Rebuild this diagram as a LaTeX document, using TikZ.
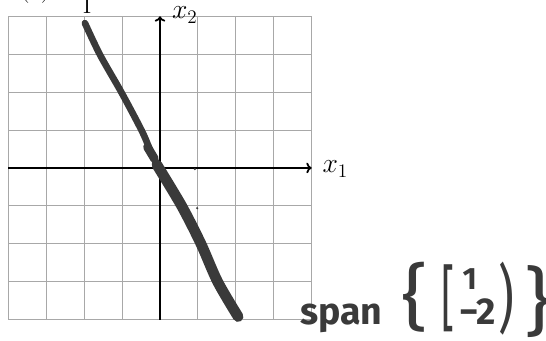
\documentclass[tikz,border=0pt]{standalone}
\usepackage{fontspec}
\usepackage{graphicx}
\usetikzlibrary{arrows.meta}
\newfontfamily\handfont{Fira Sans}
\definecolor{ink}{HTML}{3A3A3A}
\definecolor{gridc}{HTML}{A8A8A8}
\begin{document}
\begin{tikzpicture}[
  gridline/.style={draw=gridc, line width=0.7pt},
  axisline/.style={draw=black, line width=1.3pt, -{To[length=4pt,width=8pt]}},
  lbl/.style={inner sep=0pt, font=\huge},
  hand/.style={inner sep=0pt, text=ink, font=\handfont\bfseries},
  handthin/.style={inner sep=0pt, text=ink, font=\handfont},
  stroke/.style={draw=ink, line cap=round, line join=round},
]
\useasboundingbox (-4.22,-4.56) rectangle (10.18,4.43);
% heading fragments (cut off at top)
\node[lbl, anchor=base west] (head) at (-3.70,4.525) {(c)};
\node[lbl, anchor=base west] (headI) at (-2.045,4.063) {I};
% grid
\coordinate (gSW) at (-4,-4);
\coordinate (gNE) at (4,4);
\draw[gridline] (gSW) grid (gNE);
% axes
\coordinate (xL) at (-4,0);
\coordinate (xR) at (4,0);
\coordinate (yB) at (0,-4);
\coordinate (yT) at (0,4);
\draw[axisline] (xL) -- (xR);
\draw[axisline] (yB) -- (yT);
\node[lbl, anchor=base west] (x1) at (4.28,-0.13) {$x_1$};
\node[lbl, anchor=base west] (x2) at (0.31,3.93) {$x_2$};
% hand-drawn line
\draw[stroke, line width=5pt] plot[smooth] coordinates {(-1.98,3.82) (-1.58,2.98) (-1.01,1.98) (-0.48,0.98) (-0.26,0.47) (-0.05,0)};
\draw[stroke, line width=6.5pt] (-0.33,0.55) -- (-0.15,0.25);
\draw[stroke, line width=8pt] plot[smooth] coordinates {(-0.08,0.08) (0.57,-1.0) (1.08,-2.0) (1.52,-3.0) (2.06,-3.92)};
\fill[ink] (0.92,-0.03) circle (0.9pt);
\fill[ink] (0.98,-1.06) circle (0.9pt);
% handwritten span
\node[hand, anchor=base west] (span) at (3.69,-4.12) {\resizebox{2.17cm}{!}{span}};
\node[handthin] (lbrace) at (6.73,-3.40) {\resizebox*{0.7cm}{1.85cm}{\{}};
\node[handthin] (lbrack) at (7.6,-3.44) {\resizebox*{0.35cm}{1.77cm}{[}};
\node[hand] (one) at (8.17,-2.93) {\resizebox*{!}{0.55cm}{1}};
\node[hand] (mtwo) at (8.38,-3.79) {\resizebox*{!}{0.68cm}{−2}};
\node[handthin] (rpar) at (9.14,-3.44) {\resizebox*{0.42cm}{1.93cm}{)}};
\node[handthin] (rbrace) at (9.95,-3.51) {\resizebox*{0.7cm}{1.9cm}{\}}};
\end{tikzpicture}
\end{document}
